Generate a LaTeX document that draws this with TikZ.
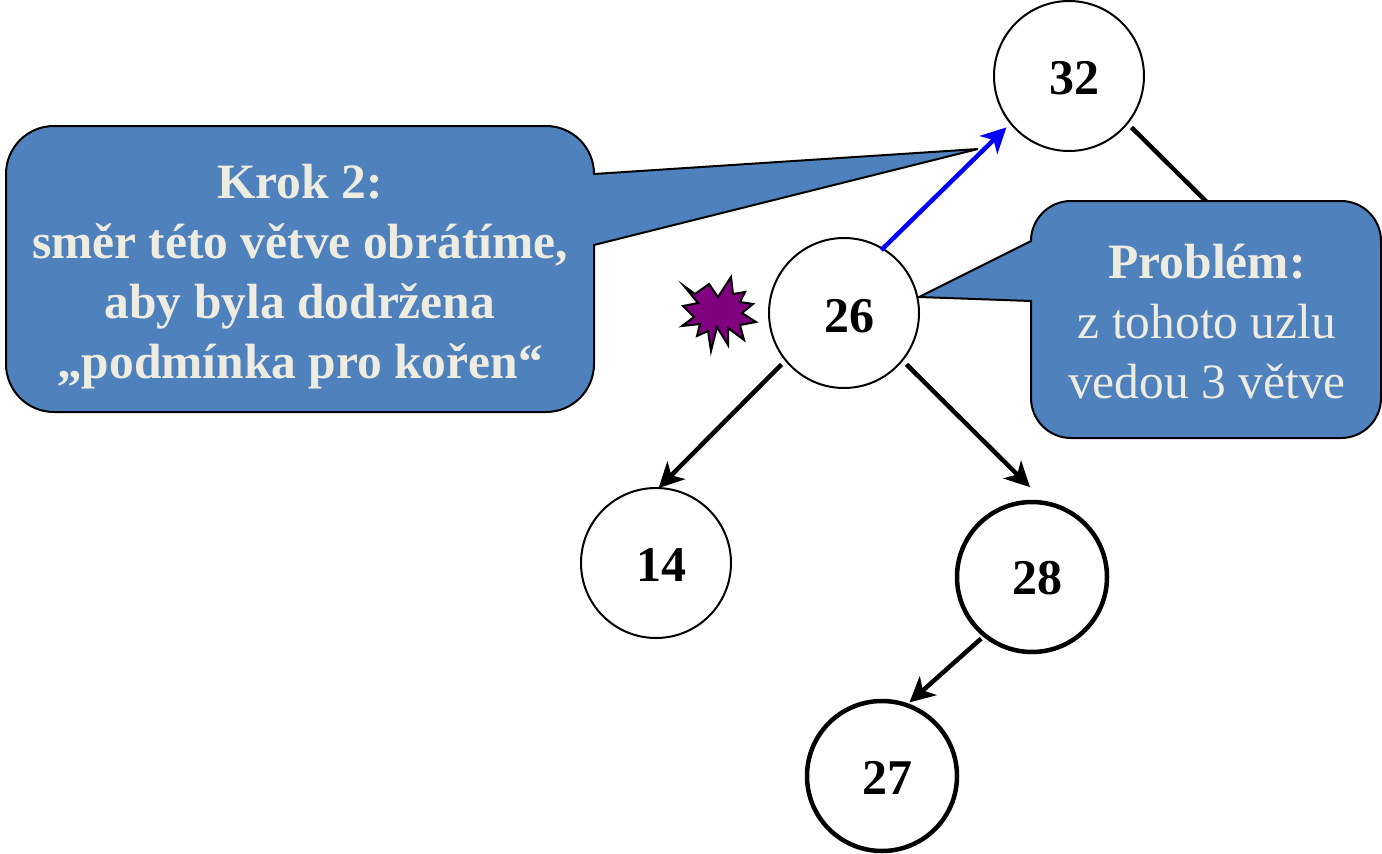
\documentclass[tikz,border=0pt]{standalone}
\usepackage{fontspec}
\setmainfont{Liberation Serif}
\usetikzlibrary{arrows.meta}
\newcommand{\cislo}[2]{\hspace{10pt}\raisebox{-#1pt}[0pt][0pt]{#2}}

\begin{document}
\begin{tikzpicture}[x=1pt, y=-1pt]
    \tikzstyle{uzel} = [circle, draw, line width=2pt, fill=white, minimum size=150pt, inner sep=0pt, outer sep=0pt, font=\fontsize{50}{60}\selectfont\bfseries]
    \tikzstyle{tlusty} = [uzel, line width=4.5pt]
    \tikzstyle{vetev} = [line width=4.5pt, -{Stealth[length=25pt, width=25pt, inset=7pt]}]
    \tikzstyle{bublina} = [draw=black, line width=2pt, fill=bublinaBarva, line join=miter]
    \tikzstyle{napis} = [text=napisBarva, align=center, inner sep=0pt, font=\fontsize{49.5}{60}\selectfont]
    \definecolor{bublinaBarva}{HTML}{4F81BD}
    \definecolor{napisBarva}{HTML}{EEECE1}
    \definecolor{hvezdaBarva}{HTML}{800080}

    \useasboundingbox (0,0) rectangle (1382,854);

    % Uzly
    \node[uzel] (n32) at (1069,76) {\cislo{18}{32}};
    \node[uzel] (n14) at (656,563) {\cislo{18}{14}};
    \node[tlusty] (n28) at (1032,577) {\cislo{17}{28}};
    \node[tlusty] (n27) at (882,776) {\cislo{18}{27}};

    % Vetev schovana pod bublinou
    \coordinate (skryty) at (1240,235);
    \draw[line width=4.5pt, shorten <=6pt] (n32.-39) -- (skryty);

    % Bubliny
    \draw[bublina] (54,126) -- (546,126) arc (-90:0:48) -- (978,149) -- (594,245) -- (594,364) arc (0:90:48)
        -- (54,412) arc (90:180:48) -- (6,174) arc (180:270:48) -- cycle;
    \draw[bublina] (1071,201) -- (1341,201) arc (-90:0:40) -- (1381,398) arc (0:90:40) -- (1071,438) arc (90:180:40)
        -- (1031,301) -- (919,297) -- (1031,241) arc (180:270:40) -- cycle;
    \node[napis] (krok) at (300,277) {\textbf{Krok 2:}\\\textbf{směr této větve obrátíme,}\\\textbf{aby byla dodržena}\\\textbf{„podmínka pro kořen“}};
    \node[napis] (problem) at (1207,322) {\textbf{Problém:}\\z tohoto uzlu\\vedou 3 větve};

    \node[uzel] (n26) at (844,313) {\cislo{19}{26}};

    % Hvezda
    \draw[line width=2pt, fill=hvezdaBarva, miter limit=12] (684,286) -- (695,294) -- (709,284) -- (718,297) -- (731,277) -- (733,294)
        -- (745,292) -- (740,302) -- (753,304) -- (742,313) -- (756,322) -- (740,325) -- (744,340) -- (728,328)
        -- (728,345) -- (717,327) -- (711,351) -- (708,331) -- (697,336) -- (700,324) -- (682,326) -- (694,317)
        -- (683,306) -- (698,303) -- cycle;

    % Vetve
    \draw[vetev, shorten <=6pt] (n26.219) -- (n14.88);
    \draw[vetev, shorten <=6pt, shorten >=23pt] (n26.-39) -- (n28.79);
    \draw[vetev, shorten <=5pt, shorten >=4pt] (n28.231) -- (n27.71);
    \draw[vetev, blue, shorten <=-2pt, shorten >=6pt] (n26.59) -- (n32.219);
\end{tikzpicture}
\end{document}
